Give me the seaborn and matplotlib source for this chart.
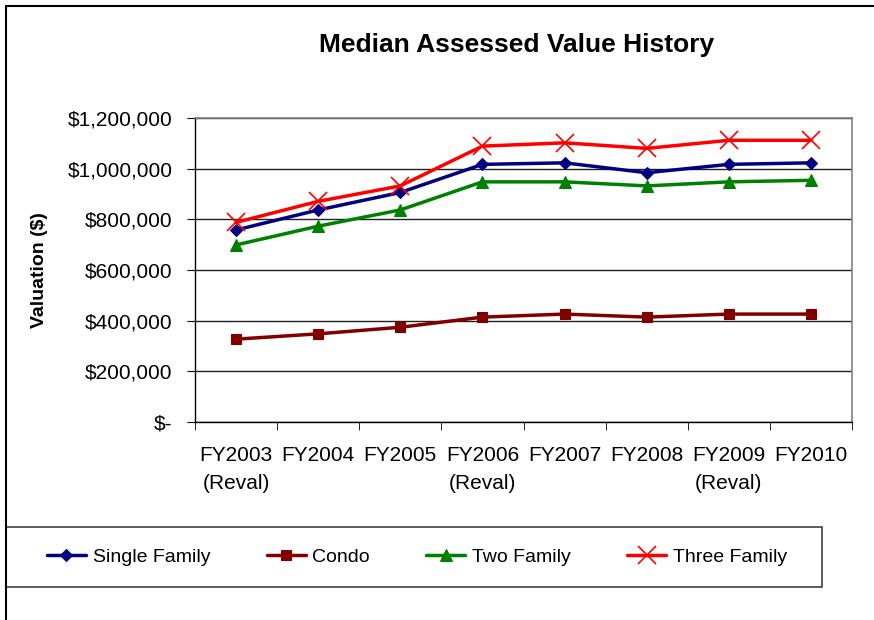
import pandas as pd
import seaborn as sb
from matplotlib import pyplot as plt
from matplotlib.lines import Line2D
from matplotlib.patches import Rectangle
from matplotlib.ticker import FuncFormatter, FixedLocator

years = ["FY2003\n(Reval)", "FY2004", "FY2005", "FY2006\n(Reval)",
         "FY2007", "FY2008", "FY2009\n(Reval)", "FY2010"]
single_family = [758000, 837000, 906000, 1017000, 1023000, 984000, 1017000, 1023000]
condo = [327000, 348000, 374000, 414000, 426000, 414000, 426000, 426000]
two_family = [699000, 773000, 837000, 948000, 948000, 932000, 948000, 954000]
three_family = [788000, 871000, 932000, 1089000, 1102000, 1080000, 1112000, 1112000]

series = {
    "Single Family": (single_family, "#000080", "D", 6.5),
    "Condo": (condo, "#800000", "s", 6.5),
    "Two Family": (two_family, "#008000", "^", 8),
    "Three Family": (three_family, "#FF0000", "x", 13),
}

sb.set_style("white")
plt.rcParams['font.family'] = ['Liberation Sans', 'DejaVu Sans']
plt.rcParams['text.color'] = 'black'
plt.rcParams['xtick.labelcolor'] = 'black'
plt.rcParams['ytick.labelcolor'] = 'black'

fig = plt.figure(figsize=(8.74, 6.2), dpi=100)
ax = fig.add_axes([195/874, 1-422/620, (852-195)/874, (422-118)/620])

for name, (vals, col, mk, ms) in series.items():
    df = pd.DataFrame({"pos": range(len(years)), "value": vals})
    sb.lineplot(data=df, x="pos", y="value", ax=ax, color=col, marker=mk,
                markersize=ms, markeredgecolor=col, markerfacecolor=col,
                markeredgewidth=1.2 if mk == "x" else 0.8,
                linewidth=2.5, label=name, legend=False)

ax.set_xlim(-0.5, len(years) - 0.5)
ax.set_ylim(0, 1200000)
ax.set_yticks(range(0, 1200001, 200000))
ax.yaxis.set_major_formatter(FuncFormatter(lambda v, p: "$-" if v == 0 else f"${v:,.0f}"))
ax.set_xticks(range(len(years)))
ax.set_xticklabels(years, fontsize=15, linespacing=1.6)
ax.xaxis.set_minor_locator(FixedLocator([i - 0.5 for i in range(len(years) + 1)]))
ax.tick_params(axis="x", which="major", length=0, pad=17)
ax.tick_params(axis="x", which="minor", length=6, color="black", direction="out", bottom=True)
ax.tick_params(axis="y", length=6, color="black", direction="out", left=True, labelsize=15, pad=10)

ax.grid(axis="y", color="#202020", linewidth=1)
ax.set_axisbelow(True)
for s in ["left", "bottom"]:
    ax.spines[s].set_color("black")
    ax.spines[s].set_linewidth(1)
for s in ["top", "right"]:
    ax.spines[s].set_color("#808080")
    ax.spines[s].set_linewidth(1.2)

ax.set_xlabel("")
ax.set_ylabel("")
fig.text(40/874, 1-270/620, "Valuation ($)", rotation=90, fontsize=14,
         fontweight="bold", ha="center", va="center")
fig.text(517/874, 1-45/620, "Median Assessed Value History", fontsize=19,
         fontweight="bold", ha="center", va="center")

# legend box like the Excel one
fig.add_artist(Rectangle((6/874, 1-587/620), (822-6)/874, 60/620, transform=fig.transFigure,
                         facecolor="white", edgecolor="#404040", lw=1.2))
handles, labels = ax.get_legend_handles_labels()
leg = fig.legend(handles, labels, loc="center", ncol=4,
                 bbox_to_anchor=(417/874, 1-557/620),
                 fontsize=14, frameon=False, handlelength=2.0,
                 handletextpad=0.35, columnspacing=2.9)

# outer chart border (top and left edges)
fig.add_artist(Line2D([6/874, 1], [1-6/620, 1-6/620], color="black", lw=1.5))
fig.add_artist(Line2D([6/874, 6/874], [0, 1-6/620], color="black", lw=1.5))

fig.savefig("out.png", dpi=100)
